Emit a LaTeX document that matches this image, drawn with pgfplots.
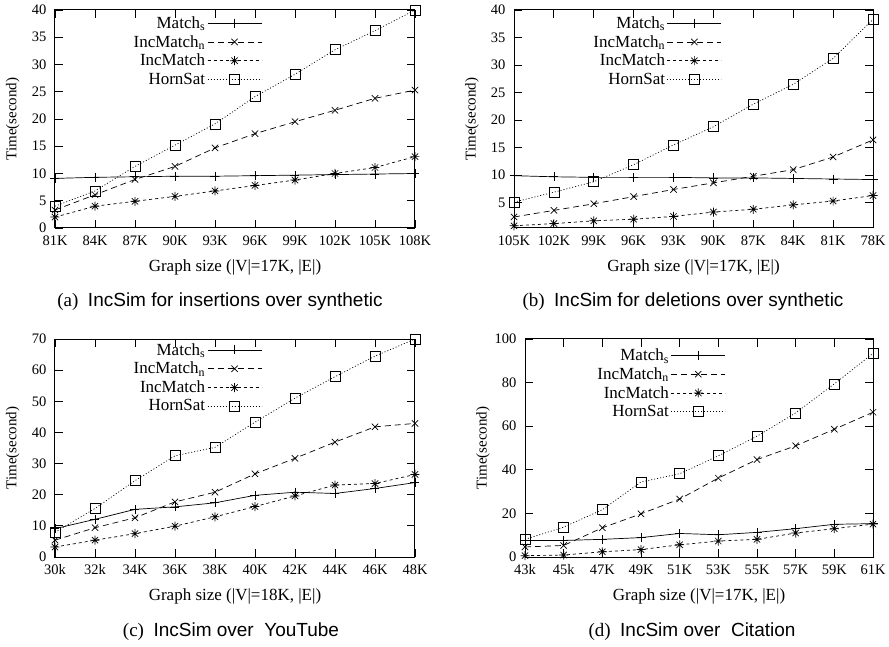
\documentclass[border=0pt]{standalone}
\usepackage{fontspec}
\setmainfont{Liberation Serif}
\setsansfont{Liberation Sans}
\usepackage{pgfplots}
\pgfplotsset{compat=1.18}

% gnuplot-like star: plus and cross together
\pgfdeclareplotmark{gpstar}{%
  \pgfpathmoveto{\pgfqpoint{-\pgfplotmarksize}{0pt}}%
  \pgfpathlineto{\pgfqpoint{\pgfplotmarksize}{0pt}}%
  \pgfpathmoveto{\pgfqpoint{0pt}{-\pgfplotmarksize}}%
  \pgfpathlineto{\pgfqpoint{0pt}{\pgfplotmarksize}}%
  \pgfpathmoveto{\pgfqpoint{-0.7\pgfplotmarksize}{-0.7\pgfplotmarksize}}%
  \pgfpathlineto{\pgfqpoint{0.7\pgfplotmarksize}{0.7\pgfplotmarksize}}%
  \pgfpathmoveto{\pgfqpoint{-0.7\pgfplotmarksize}{0.7\pgfplotmarksize}}%
  \pgfpathlineto{\pgfqpoint{0.7\pgfplotmarksize}{-0.7\pgfplotmarksize}}%
  \pgfusepathqstroke}

\pgfplotsset{
  panel/.style={
    scale only axis, height=218pt, anchor=south west,
    xmin=0, xmax=9, xtick={0,...,9}, clip=false,
    tick align=inside, major tick length=8pt,
    tick style={black, line width=0.8pt},
    axis line style={line width=1pt},
    /pgf/number format/assume math mode=true,
    tick label style={font=\fontsize{14.5}{14.5}\selectfont},
    xticklabel style={yshift=-4pt},
    yticklabel style={xshift=-5pt},
    ylabel={Time(second)},
    ylabel style={font=\fontsize{15}{15}\selectfont},
    xlabel style={font=\fontsize{17}{17}\selectfont},
    legend plot pos=right,
    legend cell align=right,
    legend style={draw=none, fill=none, anchor=north east,
      font=\fontsize{17}{17}\selectfont, row sep=1.5pt, inner sep=1pt},
    legend image code/.code={\draw[#1,mark repeat=2,mark phase=2]
      plot coordinates {(0pt,0pt) (27pt,0pt) (54pt,0pt)};},
  },
  s1/.style={black, line width=0.7pt, solid, mark=+, mark size=4.5pt, mark options={solid}},
  s2/.style={black, line width=0.7pt, dash pattern=on 6pt off 4pt, mark=x, mark size=4.5pt, mark options={solid}},
  s3/.style={black, line width=0.7pt, dash pattern=on 3pt off 3pt, mark=gpstar, mark size=4.5pt, mark options={solid}},
  s4/.style={black, line width=0.7pt, dash pattern=on 1pt off 2pt, mark=square, mark size=5pt, mark options={solid}},
}

\begin{document}
\begin{tikzpicture}
\useasboundingbox (0pt,0pt) rectangle (889pt,646pt);

% (a)
\begin{axis}[panel, at={(55pt,418pt)}, width=360pt,
  ymin=0, ymax=40, ytick={0,5,...,40},
  xticklabels={81K,84K,87K,90K,93K,96K,99K,102K,105K,108K},
  xlabel={Graph size (|V|=17K, |E|)},
  xlabel style={at={(axis description cs:0.5,-0.183)}, anchor=center},
  ylabel style={at={(axis description cs:-0.117,0.5)}, anchor=center},
  legend style={at={(axis description cs:0.578,0.985)}}]
\addplot[s1] coordinates {(0,9.1) (1,9.3) (2,9.4) (3,9.5) (4,9.5) (5,9.6) (6,9.7) (7,9.8) (8,9.9) (9,10.0)};
\addlegendentry{Match\textsubscript{s}}
\addplot[s2] coordinates {(0,3.3) (1,6.1) (2,8.9) (3,11.3) (4,14.7) (5,17.3) (6,19.5) (7,21.6) (8,23.8) (9,25.3)};
\addlegendentry{IncMatch\textsubscript{n}}
\addplot[s3] coordinates {(0,2.0) (1,4.0) (2,4.9) (3,5.8) (4,6.8) (5,7.8) (6,8.8) (7,10.0) (8,11.1) (9,13.1)};
\addlegendentry{IncMatch}
\addplot[s4] coordinates {(0,4.0) (1,6.8) (2,11.3) (3,15.2) (4,19.1) (5,24.1) (6,28.2) (7,32.7) (8,36.2) (9,40.0)};
\addlegendentry{HornSat}
\end{axis}

% (b)
\begin{axis}[panel, at={(514pt,418pt)}, width=359pt,
  ymin=0.4, ymax=40, ytick={5,10,...,40},
  xticklabels={105K,102K,99K,96K,93K,90K,87K,84K,81K,78K},
  xlabel={Graph size (|V|=17K, |E|)},
  xlabel style={at={(axis description cs:0.5,-0.183)}, anchor=center},
  ylabel style={at={(axis description cs:-0.117,0.5)}, anchor=center},
  legend style={at={(axis description cs:0.582,0.985)}}]
\addplot[s1] coordinates {(0,9.9) (1,9.7) (2,9.6) (3,9.6) (4,9.6) (5,9.5) (6,9.5) (7,9.4) (8,9.3) (9,9.2)};
\addlegendentry{Match\textsubscript{s}}
\addplot[s2] coordinates {(0,2.4) (1,3.6) (2,4.8) (3,6.1) (4,7.4) (5,8.6) (6,9.8) (7,11.0) (8,13.3) (9,16.4)};
\addlegendentry{IncMatch\textsubscript{n}}
\addplot[s3] coordinates {(0,0.8) (1,1.2) (2,1.7) (3,2.0) (4,2.5) (5,3.3) (6,3.8) (7,4.6) (8,5.3) (9,6.3)};
\addlegendentry{IncMatch}
\addplot[s4] coordinates {(0,5.1) (1,6.9) (2,8.8) (3,11.9) (4,15.5) (5,18.8) (6,22.9) (7,26.5) (8,31.2) (9,38.3)};
\addlegendentry{HornSat}
\end{axis}

% (c)
\begin{axis}[panel, at={(55pt,89pt)}, width=360pt,
  ymin=0, ymax=70, ytick={0,10,...,70},
  xticklabels={30k,32k,34K,36K,38K,40K,42K,44K,46K,48K},
  xlabel={Graph size (|V|=18K, |E|)},
  xlabel style={at={(axis description cs:0.5,-0.183)}, anchor=center},
  ylabel style={at={(axis description cs:-0.117,0.5)}, anchor=center},
  legend style={at={(axis description cs:0.578,0.995)}}]
\addplot[s1] coordinates {(0,9.1) (1,12.1) (2,15.3) (3,16.1) (4,17.4) (5,19.8) (6,20.8) (7,20.4) (8,22.0) (9,23.9)};
\addlegendentry{Match\textsubscript{s}}
\addplot[s2] coordinates {(0,5.4) (1,9.4) (2,12.6) (3,17.7) (4,20.8) (5,26.7) (6,31.7) (7,36.9) (8,41.8) (9,42.9)};
\addlegendentry{IncMatch\textsubscript{n}}
\addplot[s3] coordinates {(0,3.2) (1,5.4) (2,7.5) (3,9.9) (4,12.9) (5,16.2) (6,19.6) (7,23.1) (8,23.6) (9,26.5)};
\addlegendentry{IncMatch}
\addplot[s4] coordinates {(0,7.9) (1,15.6) (2,24.5) (3,32.5) (4,35.2) (5,43.3) (6,51.0) (7,57.9) (8,64.5) (9,70.0)};
\addlegendentry{HornSat}
\end{axis}

% (d)
\begin{axis}[panel, at={(525pt,89pt)}, width=348pt,
  ymin=0, ymax=100, ytick={0,20,...,100},
  xticklabels={43k,45k,47K,49K,51K,53K,55K,57K,59K,61K},
  xlabel={Graph size (|V|=17K, |E|)},
  xlabel style={at={(axis description cs:0.5,-0.183)}, anchor=center},
  ylabel style={at={(axis description cs:-0.121,0.5)}, anchor=center},
  legend style={at={(axis description cs:0.58,0.97)}}]
\addplot[s1] coordinates {(0,7.6) (1,7.6) (2,8.1) (3,8.9) (4,10.8) (5,10.2) (6,11.3) (7,13.0) (8,15.0) (9,15.3)};
\addlegendentry{Match\textsubscript{s}}
\addplot[s2] coordinates {(0,4.6) (1,5.3) (2,13.4) (3,19.8) (4,26.6) (5,36.2) (6,44.7) (7,51.0) (8,58.6) (9,66.4)};
\addlegendentry{IncMatch\textsubscript{n}}
\addplot[s3] coordinates {(0,0.6) (1,0.9) (2,2.4) (3,3.4) (4,5.6) (5,7.3) (6,8.1) (7,11.0) (8,13.0) (9,15.1)};
\addlegendentry{IncMatch}
\addplot[s4] coordinates {(0,8.1) (1,13.7) (2,21.7) (3,34.4) (4,38.2) (5,46.4) (6,55.4) (7,66.1) (8,79.4) (9,93.4)};
\addlegendentry{HornSat}
\end{axis}

\node[font=\fontsize{19}{19}\selectfont] at (220pt,344pt) {(a)\ \ \sffamily IncSim for insertions over synthetic};
\node[font=\fontsize{19}{19}\selectfont] at (683pt,344pt) {(b)\ \ \sffamily IncSim for deletions over synthetic};
\node[font=\fontsize{19}{19}\selectfont] at (231pt,14pt) {(c)\ \ \sffamily IncSim over\ \ YouTube};
\node[font=\fontsize{19}{19}\selectfont] at (692pt,14pt) {(d)\ \ \sffamily IncSim over\ \ Citation};
\end{tikzpicture}
\end{document}
